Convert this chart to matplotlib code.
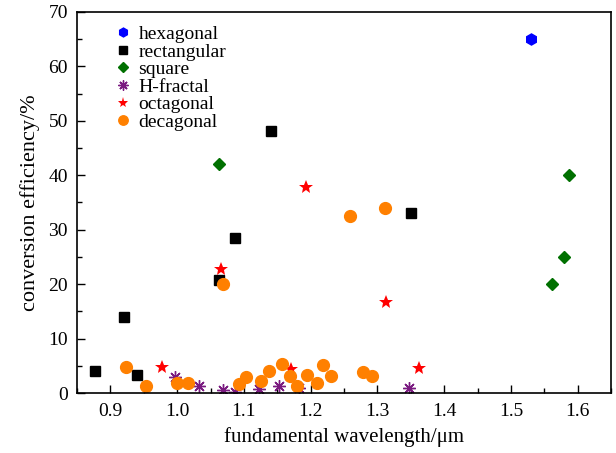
import matplotlib
matplotlib.use("Agg")
import matplotlib.pyplot as plt
from matplotlib.ticker import MultipleLocator

plt.rcParams['font.family'] = ['Liberation Serif', 'DejaVu Serif']

# values
hex_x = [1.53]
hex_y = [65]

rect_x = [0.877, 0.92, 0.94, 1.063, 1.086, 1.141, 1.351]
rect_y = [4.0, 14.0, 3.3, 20.7, 28.4, 48.2, 33.0]

square_x = [1.063, 1.562, 1.58, 1.587]
square_y = [42.0, 20.0, 25.0, 40.0]

hfrac_x = [0.997, 1.033, 1.069, 1.087, 1.123, 1.153, 1.183, 1.347]
hfrac_y = [2.9, 1.4, 0.6, 0.3, 0.7, 1.4, 0.9, 0.9]

oct_x = [0.978, 1.065, 1.170, 1.193, 1.313, 1.362]
oct_y = [4.8, 22.8, 4.4, 37.9, 16.8, 4.7]

dec_x = [0.923, 0.954, 1.0, 1.016, 1.069, 1.092, 1.103, 1.126, 1.138, 1.157,
         1.169, 1.179, 1.195, 1.21, 1.219, 1.231, 1.259, 1.278, 1.292, 1.312]
dec_y = [4.8, 1.3, 1.8, 1.8, 20.0, 1.6, 2.9, 2.3, 4.0, 5.4,
         3.2, 1.3, 3.4, 1.8, 5.1, 3.1, 32.5, 3.9, 3.1, 34.0]

xticks = [0.9, 1.0, 1.1, 1.2, 1.3, 1.4, 1.5, 1.6]
xtick_labels = ['0.9', '1.0', '1.1', '1.2', '1.3', '1.4', '1.5', '1.6']

fig = plt.figure(figsize=(6.16, 4.53), dpi=100)
ax = fig.add_axes([0.125, 0.132, 0.867, 0.842])

ax.plot(hex_x, hex_y, 'h', color='#0000ff', markersize=8, label='hexagonal')
ax.plot(rect_x, rect_y, 's', color='black', markersize=7, label='rectangular')
ax.plot(square_x, square_y, 'D', color='#007000', markersize=6.5, label='square')
ax.plot(hfrac_x, hfrac_y, ls='none', marker=(8, 2, 0), color='#7a1a80',
        markersize=9, markeredgewidth=1.0, label='H-fractal')
ax.plot(oct_x, oct_y, '*', color='#ff0000', markersize=10, markeredgewidth=0,
        label='octagonal')
ax.plot(dec_x, dec_y, 'o', color='#ff8000', markersize=8.5, label='decagonal')

ax.set_xlim(0.85, 1.65)
ax.set_ylim(0, 70)
ax.set_xticks(xticks)
ax.set_xticklabels(xtick_labels)
ax.xaxis.set_minor_locator(MultipleLocator(0.05))
ax.yaxis.set_major_locator(MultipleLocator(10))
ax.yaxis.set_minor_locator(MultipleLocator(5))
ax.tick_params(which='both', direction='in', top=False, right=False,
               labelsize=14)
ax.tick_params(which='major', length=6, width=1)
ax.tick_params(which='minor', length=3.5, width=1)
ax.tick_params(axis='x', which='major', pad=7)
ax.tick_params(axis='y', which='major', pad=6.5)
for s in ax.spines.values():
    s.set_linewidth(1.2)

ax.set_xlabel('fundamental wavelength/\u03bcm', fontsize=15, labelpad=5)
ax.set_ylabel('conversion efficiency/%', fontsize=16, labelpad=6)

ax.legend(loc='upper left', bbox_to_anchor=(0.035, 1.005), frameon=False,
          fontsize=14, markerscale=0.8, handletextpad=0.2, labelspacing=0.0,
          handlelength=1.2, borderaxespad=0.4)

fig.savefig('out.png', dpi=100)
